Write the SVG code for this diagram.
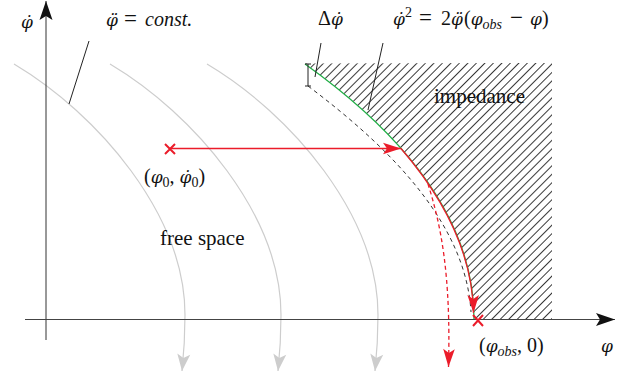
<svg xmlns="http://www.w3.org/2000/svg" width="638" height="376" viewBox="0 0 638 376">
<style>
text{font-family:"Liberation Serif","Times New Roman",serif;font-size:20px;fill:#111}
.i{font-style:italic}
.p{font-family:"DejaVu Serif",serif;font-style:italic;font-size:17px}
.w{font-size:21px}
.sub{font-size:14px}
.eq{font-size:23px}
.gray{fill:none;stroke:#cdcdcd;stroke-width:1.2}
.ptr{stroke:#222;stroke-width:1;fill:none}
.red{stroke:#eb1c2a;fill:none;stroke-width:1.3}
.xm{stroke:#eb1c2a;fill:none;stroke-width:2}
</style>
<defs>
<pattern id="hatch" patternUnits="userSpaceOnUse" width="6" height="10" patternTransform="rotate(45)"><line x1="3" y1="-1" x2="3" y2="11" stroke="#222" stroke-width="0.9" shape-rendering="crispEdges"/></pattern>
<marker id="ar" markerUnits="userSpaceOnUse" viewBox="-19 -7 20 14" refX="0" refY="0" markerWidth="20" markerHeight="14" orient="auto"><path d="M0,0 L-18,-5.8 L-14,0 L-18,5.8 Z" fill="#eb1c2a"/></marker>
<marker id="ag" markerUnits="userSpaceOnUse" viewBox="-19 -8 20 16" refX="0" refY="0" markerWidth="20" markerHeight="16" orient="auto"><path d="M0,0 L-17,-6.5 L-13,0 L-17,6.5 Z" fill="#cdcdcd"/></marker>
<marker id="ak" markerUnits="userSpaceOnUse" viewBox="-21 -8 22 16" refX="0" refY="0" markerWidth="22" markerHeight="16" orient="auto"><path d="M0,0 L-19,-6.5 L-15,0 L-19,6.5 Z" fill="#111"/></marker>
</defs>

<g id="trajectories">
<path class="gray" d="M14,64 C98,114 185,215 185,315 C185,338 184,352 182,371" marker-end="url(#ag)"/>
<path class="gray" d="M110,64 C194,114 281,215 281,315 C281,338 280,352 278,371" marker-end="url(#ag)"/>
<path class="gray" d="M207,64 C291,114 378,215 378,315 C378,338 377,352 375,371" marker-end="url(#ag)"/>
</g>

<g id="impedance">
<path d="M305,63.5 C403,134 474,219 474,319 L552,319 L552,63 Z" fill="url(#hatch)"/>
<text class="w" x="434" y="103">impedance</text>
</g>

<g id="axes">
<path d="M46,340 L46,1" stroke="#333" stroke-width="1" fill="none" marker-end="url(#ak)"/>
<path d="M25,319.5 L615,319.5" stroke="#444" stroke-width="1" fill="none" marker-end="url(#ak)"/>
<text class="p" x="21" y="28">φ̇</text>
<text class="p" x="601" y="352">φ</text>
</g>

<g id="connectors">
<path d="M305,64 C403,134 474,219 474,319" fill="none" stroke="#1fae45" stroke-width="1.3"/>
<path d="M308,86 C397,153 466,227 471,312" fill="none" stroke="#333" stroke-width="1" stroke-dasharray="4 3.5"/>
<path d="M308,64 L308,86 M305,64 L311,64 M305,86 L311,86" class="ptr" stroke="#444"/>
<path class="ptr" d="M89,41 L69,104"/>
<path class="ptr" d="M321,43 L315,77"/>
<path class="ptr" d="M383,43 L368,110"/>
<path class="red" d="M170,148.5 L401,148.5" marker-end="url(#ar)"/>
<path class="red" d="M401,148.5 C445,199.5 472.5,256 473.5,313" marker-end="url(#ar)"/>
<path class="red" d="M428,184 C441,225 451,275 448.5,367" stroke-dasharray="4 3" marker-end="url(#ar)"/>
</g>

<g id="start">
<path class="xm" d="M165,144 L175,154 M165,154 L175,144"/>
<text x="144" y="183">(<tspan class="p">φ</tspan><tspan class="sub" dy="4">0</tspan><tspan dy="-4">, </tspan><tspan class="p">φ̇</tspan><tspan class="sub" dy="4">0</tspan><tspan dy="-4">)</tspan></text>
</g>

<g id="obstacle">
<path class="xm" d="M473,315 L483,326 M473,326 L483,315"/>
<text x="479" y="352">(<tspan class="p">φ</tspan><tspan class="i sub" dy="4">obs</tspan><tspan dy="-4">, 0)</tspan></text>
</g>

<g id="labels">
<text x="106" y="26"><tspan class="p">φ̈</tspan><tspan class="eq" x="124">=</tspan><tspan x="145" class="i">const.</tspan></text>
<text x="318" y="25">Δ<tspan class="p">φ̇</tspan></text>
<text x="393" y="25"><tspan class="p">φ̇</tspan><tspan class="sub" dy="-8">2</tspan><tspan class="eq" x="419" dy="8">=</tspan><tspan x="441">2</tspan><tspan class="p">φ̈</tspan><tspan x="464">(</tspan><tspan class="p">φ</tspan><tspan class="i sub" dy="4">obs</tspan><tspan class="eq" x="510" dy="-4">−</tspan><tspan x="530" class="p">φ</tspan><tspan>)</tspan></text>
<text class="w" x="160" y="245">free space</text>
</g>
</svg>
